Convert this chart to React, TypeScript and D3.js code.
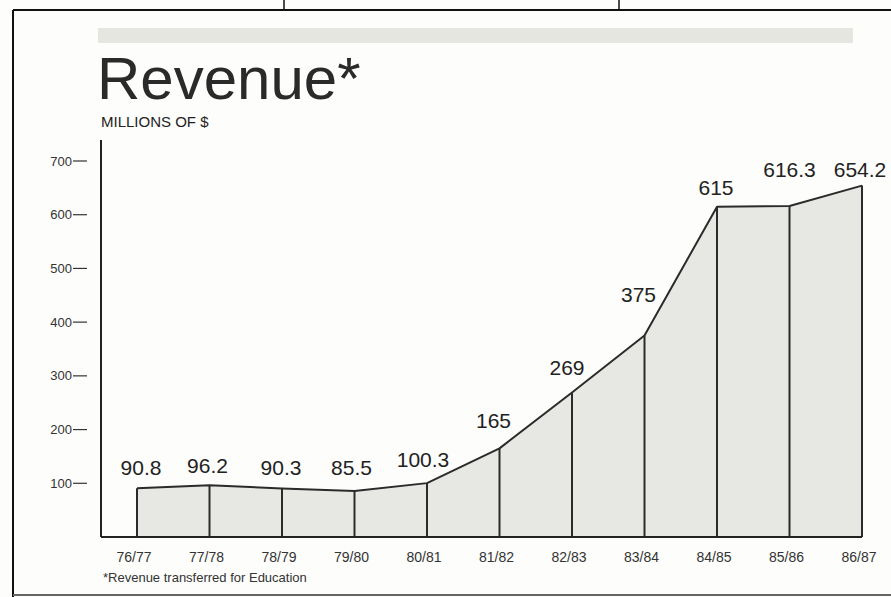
import React, { useMemo } from "react";
import * as d3 from "d3";

// fiscal years and revenue (millions of $)
const years = ["76/77", "77/78", "78/79", "79/80", "80/81", "81/82", "82/83", "83/84", "84/85", "85/86", "86/87"];
const revenue = [90.8, 96.2, 90.3, 85.5, 100.3, 165, 269, 375, 615, 616.3, 654.2];
const valueLabels = ["90.8", "96.2", "90.3", "85.5", "100.3", "165", "269", "375", "615", "616.3", "654.2"];
const yTicks = [100, 200, 300, 400, 500, 600, 700];

const title = "Revenue*";
const subtitle = "MILLIONS OF $";
const footnote = "*Revenue transferred for Education";

// hand-placed label nudges, as in the printed chart
const labelNudge: [number, number][] = [
  [4, -13], [-2, -12], [-1, -13], [-3, -16], [-4, -16], [-6, -20],
  [-5, -18], [-6, -34], [-1, -12], [0, -29], [-2, -9],
];

const W = 891;
const H = 597;
const FONT = "'Liberation Sans', Arial, Helvetica, sans-serif";
const INK = "#222";

export default function App() {
  const x = useMemo(() => d3.scalePoint<string>().domain(years).range([137, 862]), []);
  const y = useMemo(() => d3.scaleLinear().domain([0, 700]).range([537, 161]), []);

  const pts = years.map((yr, i) => ({ yr, v: revenue[i], i }));

  const area = d3
    .area<{ yr: string; v: number }>()
    .x((d) => x(d.yr)!)
    .y0(y(0))
    .y1((d) => y(d.v));
  const line = d3
    .line<{ yr: string; v: number }>()
    .x((d) => x(d.yr)!)
    .y((d) => y(d.v));

  return (
    <div style={{ position: "absolute", left: 0, top: 0 }}>
      <svg width={W} height={H} viewBox={`0 0 ${W} ${H}`} style={{ display: "block", fontFamily: FONT }}>
        <rect width={W} height={H} fill="#fdfdfb" />

        {/* page frame */}
        <line x1={13} x2={W} y1={10} y2={10} stroke="#111" strokeWidth={2} />
        <line x1={284} x2={284} y1={0} y2={10} stroke="#111" strokeWidth={1.5} />
        <line x1={619} x2={619} y1={0} y2={10} stroke="#111" strokeWidth={1.5} />
        <line x1={13} x2={13} y1={10} y2={H} stroke="#111" strokeWidth={2} />
        <line x1={13} x2={W} y1={595} y2={595} stroke="#666" strokeWidth={2} />

        {/* header */}
        <rect x={98} y={28} width={755} height={15} fill="#e6e6e1" />
        <text x={97} y={99} fontSize={60} fill="#2a2a2a">{title}</text>
        <text x={101} y={127} fontSize={15} fill={INK}>{subtitle}</text>

        {/* y axis */}
        <line x1={101} x2={101} y1={140} y2={y(0)} stroke={INK} strokeWidth={2} />
        {yTicks.map((t) => (
          <g key={t}>
            <text x={72} y={y(t)} dy="0.35em" textAnchor="end" fontSize={13} fill="#333">{t}</text>
            <line x1={73} x2={87} y1={y(t)} y2={y(t)} stroke="#333" strokeWidth={1.2} />
          </g>
        ))}

        {/* area with step dividers */}
        <path d={area(pts) || ""} fill="#e7e7e3" />
        {pts.map((d) => (
          <line key={d.yr} x1={x(d.yr)} x2={x(d.yr)} y1={y(d.v)} y2={y(0)} stroke="#2b2b2b" strokeWidth={2} />
        ))}
        <path d={line(pts) || ""} fill="none" stroke="#2b2b2b" strokeWidth={2} strokeLinejoin="round" />
        <line x1={101} x2={862} y1={y(0)} y2={y(0)} stroke={INK} strokeWidth={2} />

        {/* value labels */}
        {pts.map((d) => (
          <text
            key={d.yr}
            x={x(d.yr)! + labelNudge[d.i][0]}
            y={y(d.v) + labelNudge[d.i][1]}
            textAnchor="middle"
            fontSize={21}
            fill={INK}
          >
            {valueLabels[d.i]}
          </text>
        ))}

        {/* category labels */}
        {years.map((yr) => (
          <text key={yr} x={x(yr)! - 3} y={562} textAnchor="middle" fontSize={14} fill="#333">{yr}</text>
        ))}

        <text x={103} y={582} fontSize={13} fill="#333">{footnote}</text>
      </svg>
    </div>
  );
}
